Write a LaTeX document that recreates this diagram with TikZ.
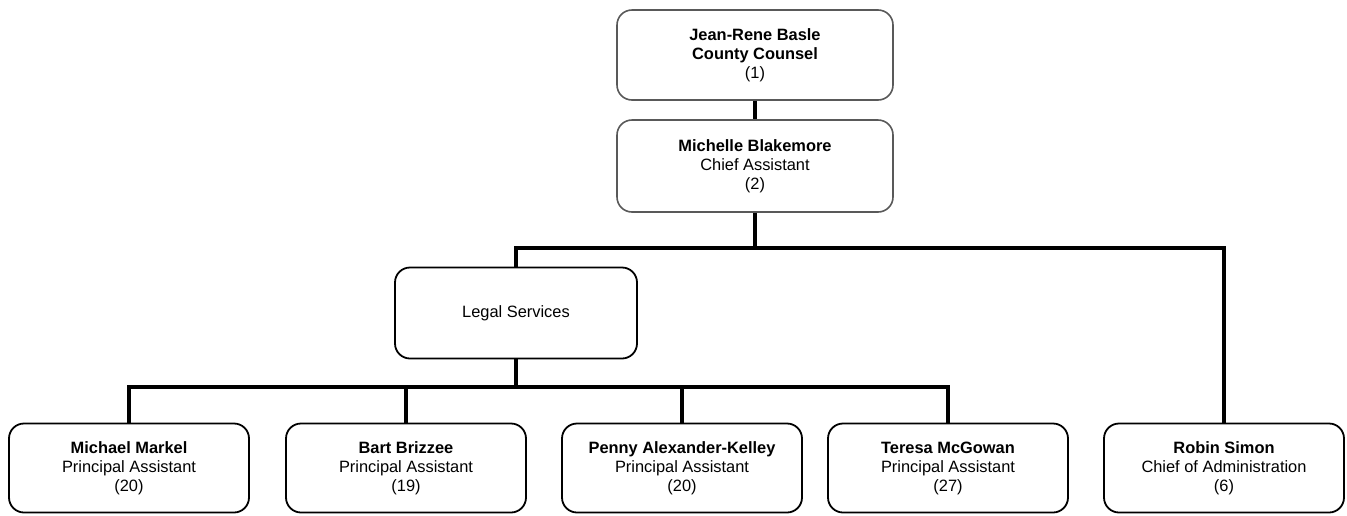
\documentclass[tikz,border=0pt]{standalone}
\usepackage{fontspec}
\setmainfont{Liberation Sans}
\usepackage{tikz}

\begin{document}
\begin{tikzpicture}[x=1pt,y=1pt,
    box/.style={draw,rounded corners=15pt,line width=1.8pt,align=center,
      minimum width=240pt,minimum height=89pt,inner sep=0pt,
      font=\fontsize{16.4}{19}\selectfont},
    topbox/.style={box,draw=black!65,line width=1.6pt,minimum width=276pt,minimum height=90pt},
    conn/.style={line width=4pt}]
  \useasboundingbox (0,0) rectangle (1347,-515);
  \node[topbox] (counsel) at (755,-55) {\textbf{Jean-Rene Basle}\\\textbf{County Counsel}\\(1)};
  \node[topbox,minimum height=92pt] (chief) at (755,-166) {\textbf{Michelle Blakemore}\\Chief Assistant\\(2)};
  \node[box,minimum width=242pt,minimum height=91pt] (legal) at (516,-313) {Legal Services};
  \node[box] (markel) at (129,-468) {\textbf{Michael Markel}\\Principal Assistant\\(20)};
  \node[box] (brizzee) at (406,-468) {\textbf{Bart Brizzee}\\Principal Assistant\\(19)};
  \node[box] (kelley) at (682,-468) {\textbf{Penny Alexander-Kelley}\\Principal Assistant\\(20)};
  \node[box] (mcgowan) at (948,-468) {\textbf{Teresa McGowan}\\Principal Assistant\\(27)};
  \node[box] (simon) at (1224,-468) {\textbf{Robin Simon}\\Chief of Administration\\(6)};
  % connectors
  \coordinate (bus1) at (755,-248);
  \coordinate (bus2) at (516,-387);
  \draw[conn] (counsel.south) -- (chief.north);
  \draw[conn] (chief.south) -- (chief.south |- bus1);
  \draw[conn] (legal.north) |- (simon.north |- bus1) -- (simon.north);
  \draw[conn] (legal.south) -- (legal.south |- bus2);
  \draw[conn] (markel.north) |- (mcgowan.north |- bus2) -- (mcgowan.north);
  \draw[conn] (brizzee.north) -- (brizzee.north |- bus2);
  \draw[conn] (kelley.north) -- (kelley.north |- bus2);
\end{tikzpicture}
\end{document}
